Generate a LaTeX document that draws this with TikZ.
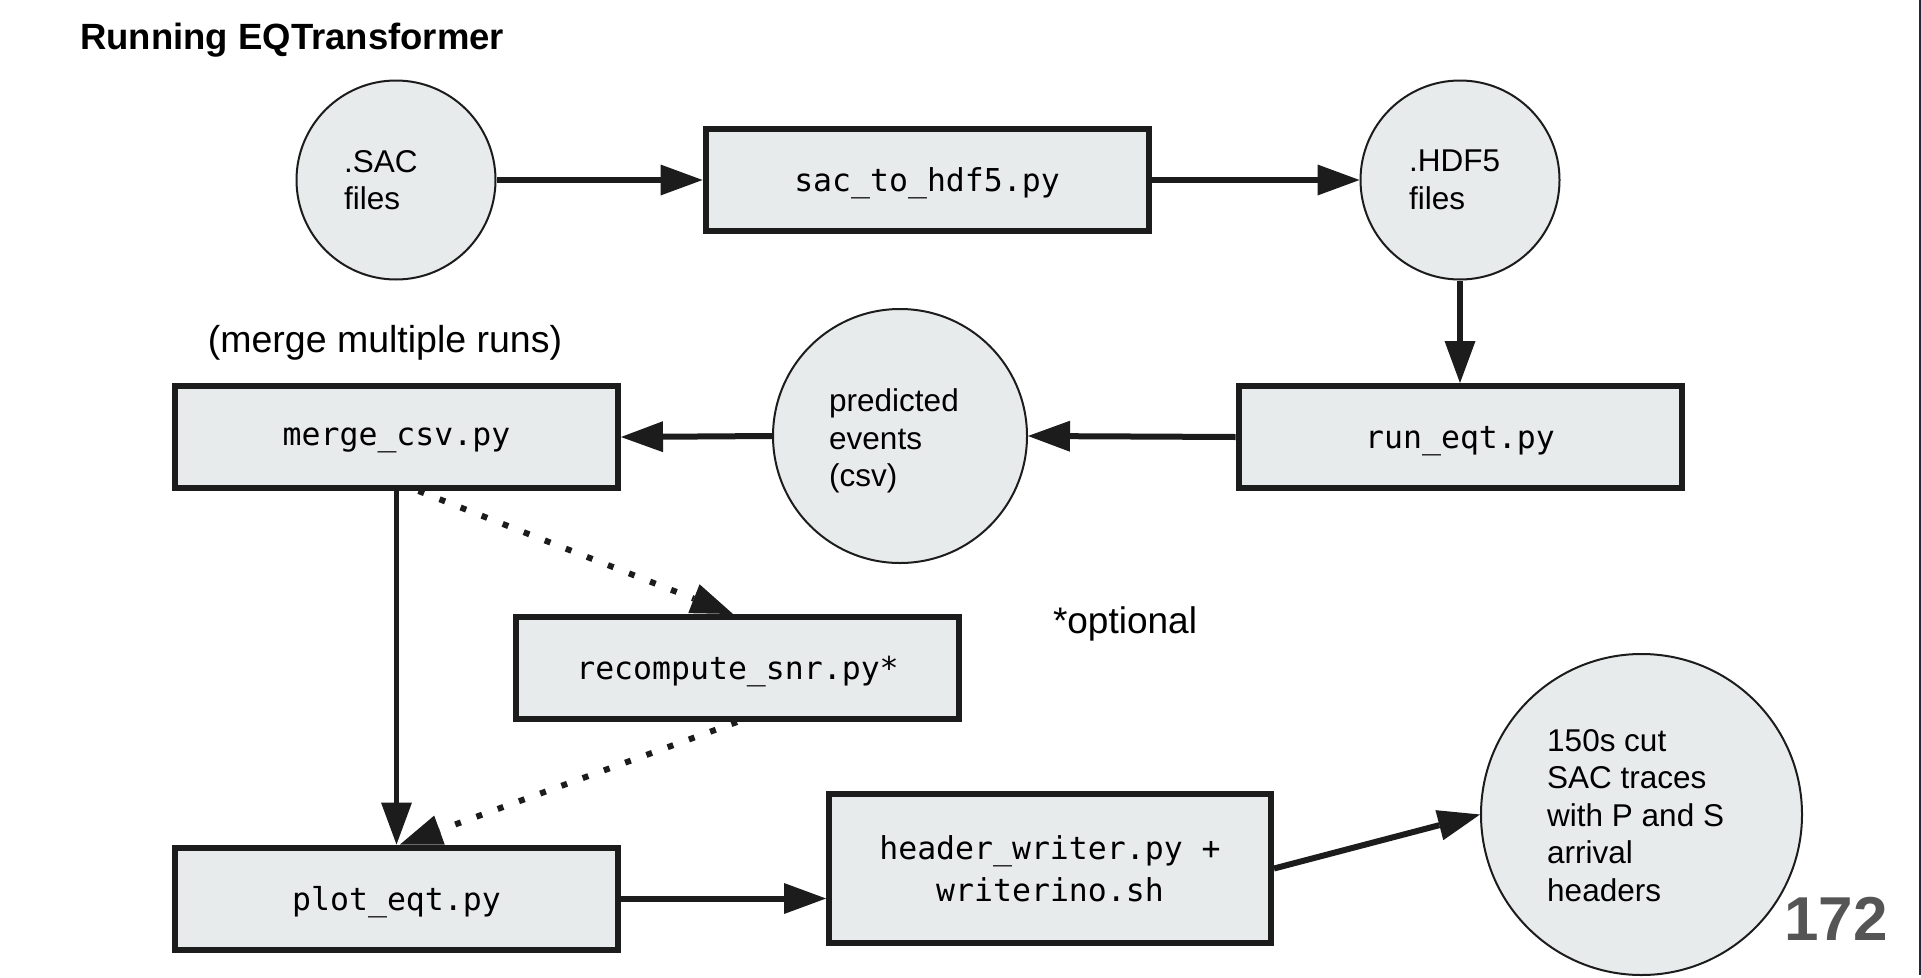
\documentclass[tikz,border=0pt]{standalone}
\usepackage{fontspec}
\setmainfont{Liberation Sans}
\newfontfamily\monofont{DejaVu Sans Mono}
\usetikzlibrary{arrows.meta,calc}
\definecolor{ink}{RGB}{28,28,28}
\definecolor{boxfill}{RGB}{232,235,236}
\definecolor{pagenum}{RGB}{85,85,85}
\definecolor{edgeline}{RGB}{40,38,56}
\begin{document}
\begin{tikzpicture}[x=1pt,y=-1pt,
  box/.style={draw=ink, line width=6pt, fill=boxfill, minimum width=443pt,
    minimum height=102pt, inner sep=0pt, align=center,
    font=\monofont\fontsize{31.5}{41.7}\selectfont},
  onebox/.style={box, text depth=0pt},
  blob/.style={circle, draw=ink, line width=2pt, fill=boxfill, inner sep=0pt},
  blobtext/.style={anchor=west, inner sep=0pt, align=left,
    font=\fontsize{31.5}{37.5}\selectfont},
  tiphead/.style={-{Triangle[length=42pt,width=31pt,line width=0pt]}},
  arr/.style={draw=ink, line width=6pt, tiphead},
  thinarr/.style={draw=ink, line width=4.5pt, tiphead},
  dotarr/.style={draw=ink, line width=6pt, line cap=butt,
    dash pattern=on 6pt off 16.6pt, tiphead}
]
\useasboundingbox (0,0) rectangle (1921,977);
\fill[white] (0,0) rectangle (1921,977);
\draw[edgeline, line width=2pt] (1920,0) -- (1920,975);

% title and labels
\node[anchor=base west, inner sep=0pt, font=\bfseries\fontsize{36.5}{44}\selectfont] (title) at (80,49) {Running EQTransformer};
\node[anchor=base, inner sep=0pt, font=\fontsize{37.5}{45}\selectfont] (mergelbl) at (385,352) {(merge multiple runs)};
\node[anchor=base, inner sep=0pt, font=\fontsize{37}{44}\selectfont] (optlbl) at (1125,633) {*optional};
\node[anchor=base east, inner sep=0pt, text=pagenum, font=\bfseries\fontsize{62}{72}\selectfont] (pagenum) at (1888,940) {172};

% circles
\node[blob, minimum size=199pt] (sac) at (396,180) {};
\node[blobtext] (sact) at (344,180) {.SAC\\files};
\node[blob, minimum size=199pt] (hdf) at (1460,180) {};
\node[blobtext] (hdft) at (1409,180) {.HDF5\\files};
\node[blob, minimum size=254pt] (pred) at (900,436) {};
\node[blobtext] (predt) at (829,441) {predicted\\events\\(csv)};
\node[blob, minimum size=321pt] (res) at (1641.5,814.5) {};
\node[blobtext] (rest) at (1547,815.5) {150s cut\\SAC traces\\with P and S\\arrival\\headers};

% boxes
\node[onebox] (sachdf) at (927,180) {sac\_to\_hdf5.py};
\node[onebox] (run) at (1460,437) {run\_eqt.py};
\node[onebox] (merge) at (396.5,437) {merge\_csv.py};
\node[onebox] (recomp) at (737.5,668) {recompute\_snr.py*};
\node[onebox] (plot) at (396.5,898.5) {plot\_eqt.py};
\node[box, minimum width=442pt, minimum height=149pt] (header) at (1050,868.5) {header\_writer.py +\\writerino.sh};

% connectors
\draw[arr] (sac.east) -- (sachdf.west);
\draw[arr] (sachdf.east) -- (hdf.west);
\draw[arr] (hdf.south) -- (run.north);
\draw[arr] (run.west) -- (pred.east);
\draw[arr] (pred.west) -- (merge.east);
\draw[thinarr] (merge.south) -- (plot.north);
\draw[dotarr] ([xshift=22pt]merge.south) -- ([xshift=-4.5pt]recomp.north);
\draw[dotarr] ([xshift=-0.5pt]recomp.south) -- ([xshift=3.5pt]plot.north);
\draw[arr] (plot.east) -- (header.west |- plot.east);
\draw[arr] (header.east) -- (res.west);
\end{tikzpicture}
\end{document}
